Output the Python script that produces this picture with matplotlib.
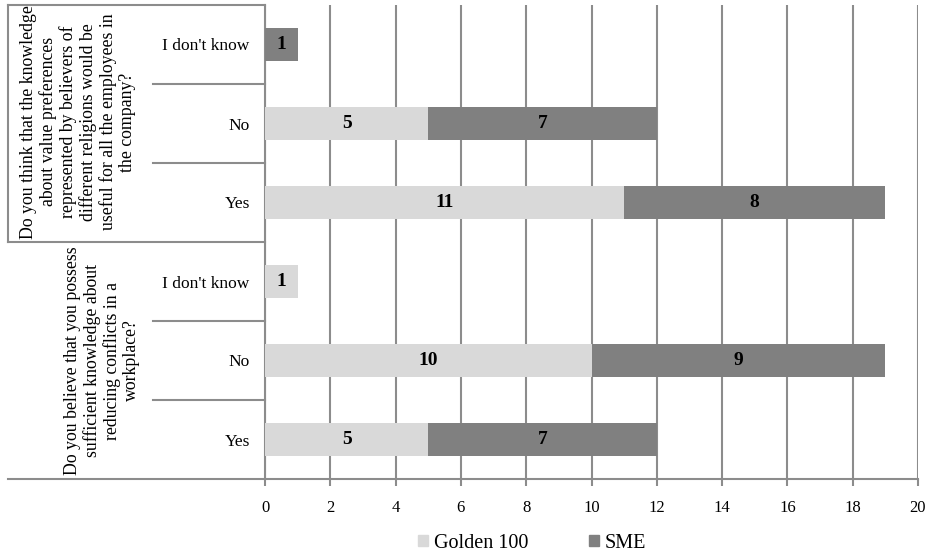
import matplotlib.pyplot as plt
import matplotlib.transforms as mtransforms
from matplotlib.patches import Patch

plt.rcParams['font.family'] = ['Liberation Serif', 'DejaVu Serif']

# answers, bottom to top
answers = ['Yes', 'No', "I don't know", 'Yes', 'No', "I don't know"]
golden = [5, 10, 1, 11, 5, 0]
sme = [7, 9, 0, 8, 7, 1]

questions = [
    'Do you believe that you possess\nsufficient knowledge about\nreducing conflicts in a\nworkplace?',
    'Do you think that the knowledge\nabout value preferences\nrepresented by believers of\ndifferent religions would be\nuseful for all the employees in\nthe company?',
]

light = '#d9d9d9'
dark = '#808080'
line_col = '#8c8c8c'

fig = plt.figure(figsize=(9.3, 5.54), dpi=100)
W, H = 930, 554
x0, x1, ytop, ybot = 265, 918, 5, 479
ax = fig.add_axes([x0 / W, 1 - ybot / H, (x1 - x0) / W, (ybot - ytop) / H])

ypos = [i + 0.5 for i in range(len(answers))]
ax.barh(ypos, golden, height=0.41, color=light, label='Golden 100', zorder=3)
ax.barh(ypos, sme, left=golden, height=0.41, color=dark, label='SME', zorder=3)

for y, g, s in zip(ypos, golden, sme):
    if g:
        ax.text(g / 2, y, str(g), ha='center', va='center', fontsize=14,
                fontweight='bold', zorder=4)
    if s:
        ax.text(g + s / 2, y, str(s), ha='center', va='center', fontsize=14,
                fontweight='bold', zorder=4)

ax.set_xlim(0, 20)
ax.set_ylim(0, 6)
ax.set_xticks(range(0, 21, 2))
ax.tick_params(axis='x', length=5, width=1.5, color=line_col, pad=10, labelsize=12)
ax.set_yticks(ypos)
ax.set_yticklabels(answers, fontsize=12.5)
ax.tick_params(axis='y', length=0, pad=11)
ax.grid(axis='x', color=line_col, linewidth=1.5, zorder=0)

for side in ['top', 'right']:
    ax.spines[side].set_visible(False)
ax.spines['left'].set_color(line_col)
ax.spines['left'].set_linewidth(1.5)
ax.spines['bottom'].set_visible(False)

# category frame to the left of the axis
tr = mtransforms.blended_transform_factory(ax.transAxes, ax.transData)
xl = (8 - x0) / (x1 - x0)
xs = (153 - x0) / (x1 - x0)
kw = dict(color=line_col, linewidth=1.5, transform=tr, clip_on=False)
ax.plot([xl, 1], [0, 0], **kw)
ax.plot([xl, 0], [3, 3], **kw)
ax.plot([xl, 0], [6, 6], **kw)
ax.plot([xl, xl], [3, 6], **kw)
for y in [1, 2, 4, 5]:
    ax.plot([xs, 0], [y, y], **kw)

ax.text((78 - x0) / (x1 - x0), 4.52, questions[1], transform=tr, rotation=90,
        ha='center', va='center', fontsize=12.8, multialignment='center',
        linespacing=1.15)
ax.text((102 - x0) / (x1 - x0), 1.5, questions[0], transform=tr, rotation=90,
        ha='center', va='center', fontsize=12.8, multialignment='center',
        linespacing=1.15)

handles = [Patch(color=light, label='Golden 100'), Patch(color=dark, label='SME')]
fig.legend(handles=handles, loc='center', bbox_to_anchor=(532 / W, 1 - 543 / H),
           ncol=2, frameon=False, fontsize=14.5, handlelength=0.5, handleheight=0.5,
           handletextpad=0.3, columnspacing=3.0)

fig.savefig('out.png', dpi=100)
